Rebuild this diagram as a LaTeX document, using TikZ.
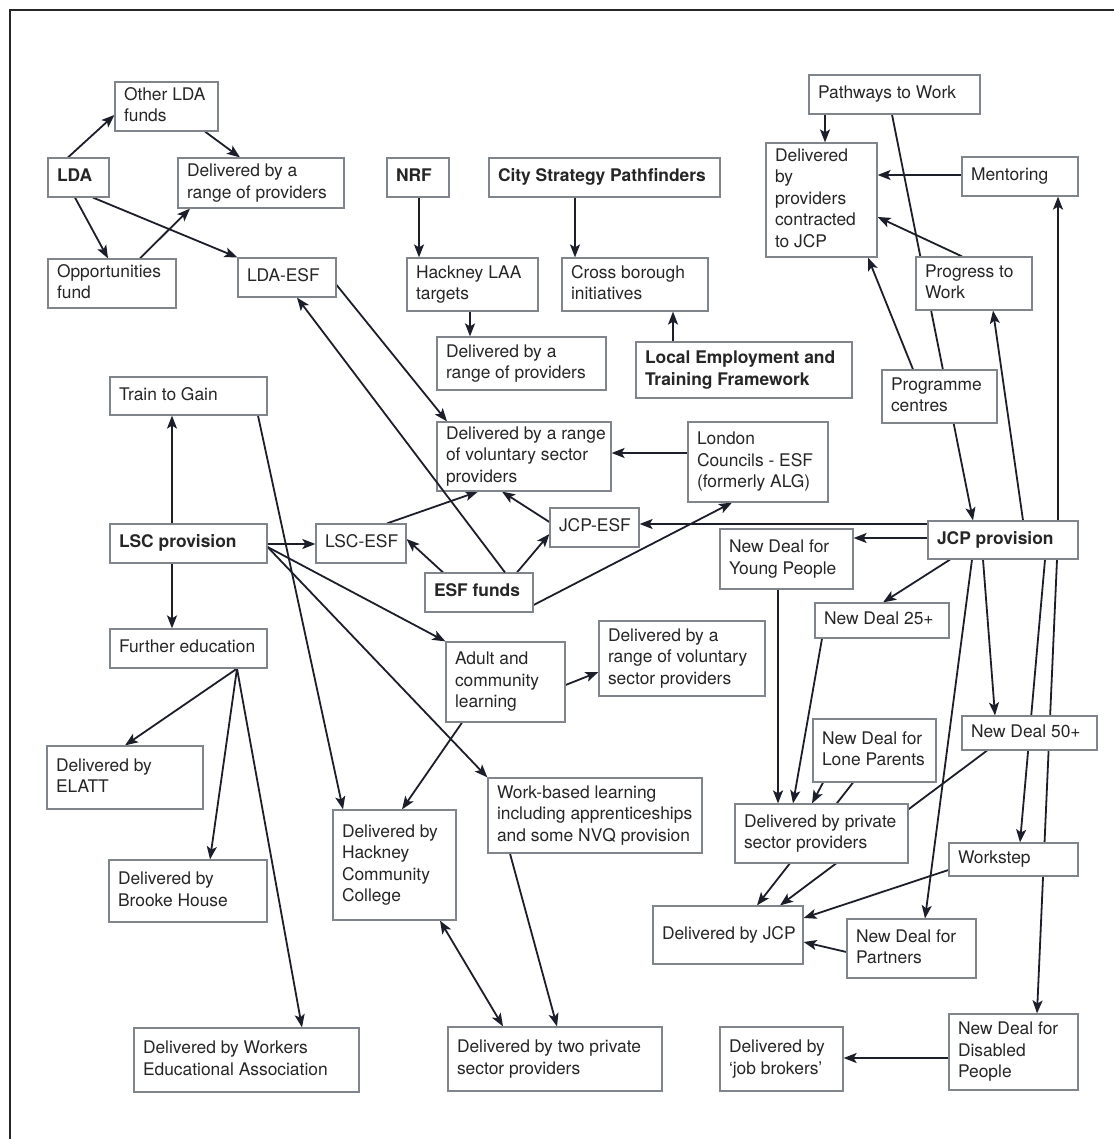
\documentclass[tikz,border=0pt]{standalone}
\usepackage{fontspec}
\setmainfont{TeX Gyre Heros}
\usetikzlibrary{arrows.meta}
\pgfdeclarelayer{bg}
\pgfsetlayers{bg,main}
\definecolor{txt}{HTML}{262626}
\definecolor{bord}{HTML}{80858C}
\definecolor{edgec}{HTML}{1C1E2A}
\newcommand{\mkbox}[6]{%
 \pgfmathsetmacro\mkBW{#4-#2}%
 \pgfmathsetmacro\mkBH{#5-#3}%
 \pgfmathsetmacro\mkCX{(#2+#4)/2}%
 \pgfmathsetmacro\mkCY{(#3+#5)/2}%
 \pgfmathsetmacro\mkTW{#4-#2-18}%
 \node[box, minimum width=\mkBW pt, minimum height=\mkBH pt] (#1) at (\mkCX,\mkCY) {\makebox[\mkTW pt][l]{\begin{tabular}{@{}l@{}}#6\end{tabular}}};%
}
\begin{document}
\begin{tikzpicture}[x=1pt,y=-1pt,
  box/.style={draw=bord, line width=1.2pt, fill=white, text=txt, inner xsep=9pt, inner ysep=1pt, font=\fontsize{17.4}{21.5}\selectfont},
  >={Stealth[length=13pt,width=10pt,inset=3pt]},
  arr/.style={draw=edgec, line width=1.8pt, ->},
  arrb/.style={draw=edgec, line width=1.8pt, <->}]
\useasboundingbox (0,0) rectangle (1114,1139);
\draw[line width=2pt, black!85] (10,1139) -- (10,10) -- (1114,10);

\mkbox{olda}{115}{82}{218}{131}{Other LDA\\funds}
\mkbox{lda}{48}{158}{109}{197}{\textbf{LDA}}
\mkbox{dtop}{178}{158}{344}{208}{Delivered by a\\range of providers}
\mkbox{opp}{48}{259}{176}{308}{Opportunities\\fund}
\mkbox{ldaesf}{238}{258}{336}{297}{LDA-ESF}
\mkbox{nrf}{387}{158}{449}{197}{\textbf{NRF}}
\mkbox{csp}{489}{158}{720}{197}{\textbf{City Strategy Pathfinders}}
\mkbox{hack}{407}{258}{538}{311}{Hackney LAA\\targets}
\mkbox{cross}{562}{258}{708}{311}{Cross borough\\initiatives}
\mkbox{dmid}{437}{337}{606}{390}{Delivered by a\\range of providers}
\mkbox{letf}{636}{342}{852}{398}{\textbf{Local Employment and}\\\textbf{Training Framework}}
\mkbox{path}{809}{75}{980}{114}{Pathways to Work}
\mkbox{dcon}{766}{143}{877}{257}{Delivered\\by\\providers\\contracted\\to JCP}
\mkbox{ment}{962}{157}{1078}{196}{Mentoring}
\mkbox{ptw}{916}{257}{1032}{310}{Progress to\\Work}
\mkbox{prog}{882}{370}{997}{423}{Programme\\centres}
\mkbox{ttg}{110}{377}{267}{415}{Train to Gain}
\mkbox{lsc}{110}{524}{267}{563}{\textbf{LSC provision}}
\mkbox{fe}{110}{629}{267}{668}{Further education}
\mkbox{lscesf}{316}{524}{406}{563}{LSC-ESF}
\mkbox{dvol}{437}{422}{611}{491}{Delivered by a range\\of voluntary sector\\providers}
\mkbox{lond}{688}{422}{828}{502}{London\\Councils - ESF\\(formerly ALG)}
\mkbox{jcpesf}{550}{508}{639}{547}{JCP-ESF}
\mkbox{esf}{425}{573}{533}{612}{\textbf{ESF funds}}
\mkbox{jcp}{928}{521}{1078}{559}{\textbf{JCP provision}}
\mkbox{ndyp}{720}{529}{853}{589}{New Deal for\\Young People}
\mkbox{nd25}{815}{603}{949}{638}{New Deal 25+}
\mkbox{acl}{446}{642}{565}{722}{Adult and\\community\\learning}
\mkbox{dvol2}{599}{621}{765}{696}{Delivered by a\\range of voluntary\\sector providers}
\mkbox{ndlp}{813}{719}{936}{782}{New Deal for\\Lone Parents}
\mkbox{nd50}{962}{716}{1097}{750}{New Deal 50+}
\mkbox{dpriv}{735}{804}{908}{863}{Delivered by private\\sector providers}
\mkbox{work}{949}{843}{1078}{876}{Workstep}
\mkbox{elatt}{47}{746}{203}{809}{Delivered by\\ELATT}
\mkbox{brooke}{109}{860}{267}{922}{Delivered by\\Brooke House}
\mkbox{wea}{134}{1028}{359}{1092}{Delivered by Workers\\Educational Association}
\mkbox{hcc}{333}{810}{456}{920}{Delivered by\\Hackney\\Community\\College}
\mkbox{wbl}{488}{778}{702}{853}{Work-based learning\\including apprenticeships\\and some NVQ provision}
\mkbox{two}{448}{1027}{662}{1091}{Delivered by two private\\sector providers}
\mkbox{djcp}{653}{906}{803}{964}{Delivered by JCP}
\mkbox{ndpart}{847}{919}{976}{978}{New Deal for\\Partners}
\mkbox{jb}{720}{1027}{843}{1091}{Delivered by\\‘job brokers’}
\mkbox{nddis}{949}{1014}{1078}{1090}{New Deal for\\Disabled\\People}

\begin{pgfonlayer}{bg}
% LDA group
\draw[arr] (lda.north -| 68,0) -- (olda.west |- 0,115);
\draw[arr] (olda.south -| 205,0) -- (dtop.north -| 240,0);
\draw[arr] (lda.south -| 75,0) -- (opp.north -| 108,0);
\draw[arr] (opp.north -| 140,0) -- (dtop.south -| 190,0);
\draw[arr] (lda.south -| 93,0) -- (ldaesf.north west);
\draw[arr] (ldaesf.east |- 0,285) -- (dvol.north -| 447,0);
% NRF / City Strategy
\draw[arr] (nrf.south -| 419,0) -- (hack.north -| 419,0);
\draw[arr] (csp.south -| 575,0) -- (cross.north -| 575,0);
\draw[arr] (hack.south -| 470,0) -- (dmid.north -| 470,0);
\draw[arr] (letf.north -| 673,0) -- (cross.south -| 673,0);
% Pathways group
\draw[arr] (path.south -| 825,0) -- (dcon.north -| 825,0);
\draw[arr] (path.south -| 892,0) -- (jcp.north -| 973,0);
\draw[arr] (ment.west |- 0,175) -- (dcon.east |- 0,175);
\draw[arr] (ptw.north -| 962,0) -- (dcon.east |- 0,217);
\draw[arr] (prog.north -| 913,0) -- (dcon.south -| 868,0);
% JCP provision
\draw[arr] (jcp.north -| 1023,0) -- (ptw.south -| 993,0);
\draw[arr] (jcp.north -| 1058,0) -- (ment.south -| 1058,0);
\draw[arr] (jcp.south -| 950,0) -- (nd25.north -| 883,0);
\draw[arr] (jcp.south -| 972,0) -- (ndpart.north -| 925,0);
\draw[arr] (jcp.south -| 983,0) -- (nd50.north -| 995,0);
\draw[arr] (jcp.south -| 1045,0) -- (work.north -| 1020,0);
\draw[arr] (jcp.south -| 1057,0) -- (nddis.north -| 1037,0);
\draw[arr] (jcp.west |- 0,538) -- (ndyp.east |- 0,538);
\draw[arr] (jcp.west |- 0,524) -- (jcpesf.east |- 0,524);
% New Deals
\draw[arr] (ndyp.south -| 778,0) -- (dpriv.north -| 778,0);
\draw[arr] (nd25.south -| 822,0) -- (dpriv.north -| 793,0);
\draw[arr] (ndlp.south -| 823,0) -- (dpriv.north -| 812,0);
\draw[arr] (ndlp.south -| 853,0) -- (djcp.north -| 757,0);
\draw[arr] (nd50.south -| 987,0) -- (djcp.north -| 780,0);
\draw[arr] (work.west |- 0,870) -- (djcp.east |- 0,918);
\draw[arr] (ndpart.west |- 0,952) -- (djcp.east |- 0,942);
\draw[arr] (nddis.west |- 0,1058) -- (jb.east |- 0,1058);
% LSC
\draw[arr] (lsc.north -| 172,0) -- (ttg.south -| 172,0);
\draw[arr] (lsc.south -| 172,0) -- (fe.north -| 172,0);
\draw[arr] (lsc.east |- 0,544) -- (lscesf.west |- 0,544);
\draw[arr] (lsc.east |- 0,547) -- (acl.north west);
\draw[arr] (lsc.east |- 0,547) -- (wbl.north west);
\draw[arr] (ttg.south -| 258,0) -- (hcc.north -| 343,0);
\draw[arr] (fe.south -| 237,0) -- (elatt.north -| 125,0);
\draw[arr] (fe.south -| 237,0) -- (brooke.north -| 210,0);
\draw[arr] (fe.south -| 237,0) -- (wea.north -| 302,0);
\draw[arr] (acl.east |- 0,685) -- (dvol2.west |- 0,672);
\draw[arr] (acl.south -| 462,0) -- (hcc.north -| 402,0);
\draw[arrb] (hcc.south -| 440,0) -- (two.north -| 503,0);
\draw[arr] (wbl.south -| 510,0) -- (two.north -| 557,0);
% ESF
\draw[arr] (esf.north -| 443,0) -- (lscesf.east |- 0,539);
\draw[arr] (esf.north -| 517,0) -- (jcpesf.west |- 0,534);
\draw[arr] (esf.east |- 0,605) -- (lond.south -| 732,0);
\draw[arr] (lscesf.north -| 387,0) -- (dvol.south -| 478,0);
\draw[arr] (jcpesf.west |- 0,522) -- (dvol.south -| 502,0);
\draw[arr] (lond.west |- 0,453) -- (dvol.east |- 0,453);
\end{pgfonlayer}
\draw[arr] (esf.north -| 505,0) -- (ldaesf.south -| 297,0);
\end{tikzpicture}
\end{document}
